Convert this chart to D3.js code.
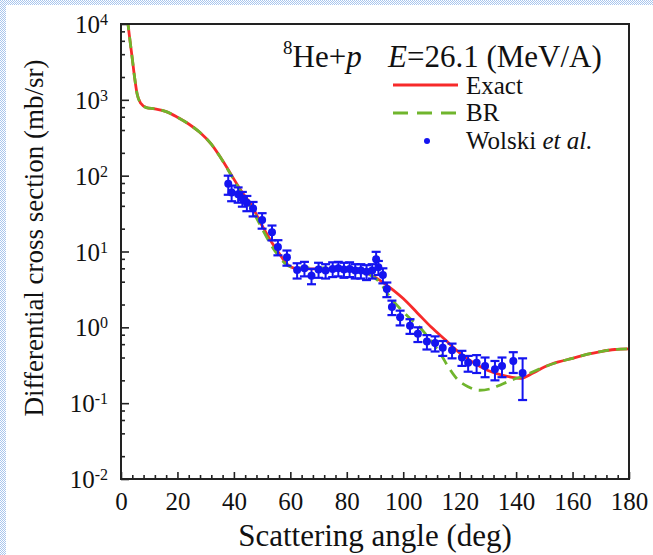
<!DOCTYPE html>
<html>
<head>
<meta charset="utf-8">
<script src="https://cdn.jsdelivr.net/npm/d3@7"></script>
<style>
  html, body { margin: 0; padding: 0; background: #fff; }
  svg { display: block; }
  svg text { font-family: "Liberation Serif", "Times New Roman", serif !important; fill: #111; }
</style>
</head>
<body>
<svg id="chart" width="653" height="555"></svg>
<script>
// Angular distribution of 8He+p elastic scattering at 26.1 MeV/A

// Exact calculation (red solid)
const exactAngle = [1.8, 2.5, 3.2, 4.0, 4.8, 5.7, 7.0, 9.0, 12, 16, 20, 24, 28, 32, 35, 38, 40, 43, 46, 50, 53, 56, 58, 60, 63, 70, 78, 84, 88, 92, 96, 100, 105, 110, 115, 120, 125, 130, 135, 140, 141.5, 146, 150, 155, 160, 165, 170, 175, 180];
const exactValue = [20000, 10000, 6000, 3500, 2000, 1200, 900, 790, 760, 700, 590, 480, 370, 260, 180, 120, 90, 60, 42, 22, 14, 9.5, 7.4, 6.3, 5.9, 5.9, 5.8, 5.5, 5.0, 4.1, 3.2, 2.4, 1.55, 1.0, 0.68, 0.46, 0.34, 0.27, 0.235, 0.215, 0.212, 0.25, 0.30, 0.35, 0.39, 0.44, 0.48, 0.51, 0.52];

// BR approximation (green dashed)
const brAngle = [1.8, 2.5, 3.2, 4.0, 4.8, 5.7, 7.0, 9.0, 12, 16, 20, 24, 28, 32, 35, 38, 40, 43, 46, 50, 53, 56, 58, 60, 63, 70, 78, 84, 88, 92, 95, 99, 103, 107, 110, 113, 116, 119, 123, 127, 131, 135, 139, 142, 146, 150, 155, 160, 165, 170, 175, 180];
const brValue = [20000, 10000, 6000, 3500, 2000, 1200, 900, 790, 760, 700, 590, 480, 370, 260, 180, 118, 88, 57, 38, 20, 12.5, 8.6, 7.0, 6.3, 6.1, 6.1, 6.0, 5.6, 5.0, 3.8, 2.6, 1.75, 1.25, 0.9, 0.65, 0.46, 0.3, 0.21, 0.165, 0.148, 0.155, 0.178, 0.205, 0.225, 0.26, 0.30, 0.35, 0.39, 0.44, 0.48, 0.51, 0.52];

// Wolski et al. measurement with uncertainties
const dataAngle = [38.0, 39.2, 41.5, 43.0, 44.6, 46.8, 50.0, 53.5, 55.6, 58.8, 62.4, 65.0, 67.5, 70.0, 72.5, 75.0, 77.0, 79.0, 81.0, 83.0, 85.0, 87.0, 89.0, 90.4, 91.2, 92.8, 94.2, 96.0, 98.9, 102.4, 105.2, 108.4, 111.3, 114.0, 117.3, 120.8, 123.0, 126.0, 129.0, 132.5, 135.0, 139.0, 142.3];
const dataValue = [78, 60, 57, 50, 44, 37, 26, 18, 11.5, 8.4, 5.7, 6.0, 4.8, 5.8, 5.6, 5.9, 6.0, 5.8, 5.9, 5.6, 5.6, 5.4, 5.6, 7.9, 6.2, 4.9, 3.2, 1.85, 1.36, 1.05, 0.82, 0.65, 0.62, 0.54, 0.50, 0.40, 0.34, 0.34, 0.31, 0.28, 0.31, 0.36, 0.25];
const dataError = [22, 14, 13, 11, 10, 8, 6, 4, 2.6, 1.9, 1.3, 1.3, 1.1, 1.3, 1.2, 1.3, 1.3, 1.3, 1.3, 1.2, 1.2, 1.2, 1.2, 2.0, 1.3, 1.1, 0.7, 0.4, 0.3, 0.23, 0.18, 0.14, 0.14, 0.12, 0.11, 0.09, 0.08, 0.09, 0.09, 0.08, 0.09, 0.11, 0.14];

const xMajor = [0, 20, 40, 60, 80, 100, 120, 140, 160, 180];
const yDecades = [-2, -1, 0, 1, 2, 3, 4];

const svg = d3.select("#chart");
const W = 653, H = 555;
const m = { left: 121, top: 24, right: 629, bottom: 479 };
const serif = '"Liberation Serif", "Times New Roman", serif';

// Dotted light-blue frame strips along the top and left edges
const defs = svg.append("defs");
const pat = defs.append("pattern").attr("id", "dots")
  .attr("width", 2).attr("height", 2).attr("patternUnits", "userSpaceOnUse");
pat.append("rect").attr("width", 2).attr("height", 2).attr("fill", "#ffffff");
pat.append("rect").attr("width", 1).attr("height", 1).attr("fill", "#a9c6ee");
pat.append("rect").attr("x", 1).attr("y", 1).attr("width", 1).attr("height", 1).attr("fill", "#a9c6ee");
svg.append("rect").attr("x", 0).attr("y", 0).attr("width", W).attr("height", 5).attr("fill", "url(#dots)");
svg.append("rect").attr("x", 0).attr("y", 0).attr("width", 6).attr("height", H).attr("fill", "url(#dots)");

defs.append("clipPath").attr("id", "plotClip").append("rect")
  .attr("x", m.left).attr("y", m.top)
  .attr("width", m.right - m.left).attr("height", m.bottom - m.top);

const x = d3.scaleLinear().domain([0, 180]).range([m.left, m.right]);
const y = d3.scaleLog().domain([1e-2, 1e4]).range([m.bottom, m.top]);

// X axis: majors every 20 deg, minors every 4 deg, ticks pointing inward
const xMinor = d3.range(0, 181, 4).filter(v => v % 20 !== 0);
const gxMinor = svg.append("g").attr("transform", `translate(0,${m.bottom})`)
  .call(d3.axisBottom(x).tickValues(xMinor).tickSize(-4).tickFormat(""));
const gx = svg.append("g").attr("transform", `translate(0,${m.bottom})`)
  .call(d3.axisBottom(x).tickValues(xMajor).tickSize(-7).tickPadding(13).tickFormat(d3.format("d")));
gx.attr("font-family", serif);
gx.selectAll("text").style("font-size", "25px").style("font-family", serif).attr("fill", "#111");
[gx, gxMinor].forEach(g => {
  g.select(".domain").remove();
  g.selectAll("line").attr("stroke", "#222").attr("stroke-width", 1.6);
});

// Y axis: decades with 2,4,6,8 minor marks, ticks pointing inward
const yMinor = [];
for (let k = -2; k < 4; k++) [2, 4, 6, 8].forEach(f => yMinor.push(f * Math.pow(10, k)));
const gyMinor = svg.append("g").attr("transform", `translate(${m.left},0)`)
  .call(d3.axisLeft(y).tickValues(yMinor).tickSize(-4).tickFormat(""));
const gy = svg.append("g").attr("transform", `translate(${m.left},0)`)
  .call(d3.axisLeft(y).tickValues(yDecades.map(k => Math.pow(10, k))).tickSize(-8).tickFormat(""));
gy.attr("font-family", serif);
[gy, gyMinor].forEach(g => {
  g.select(".domain").remove();
  g.selectAll("line").attr("stroke", "#222").attr("stroke-width", 1.6);
});
gy.selectAll(".tick").each(function(d) {
  const t = d3.select(this).select("text")
    .attr("x", -13).attr("dy", "0.34em").attr("text-anchor", "end")
    .style("font-size", "25px").style("font-family", serif).attr("fill", "#111");
  const e = Math.round(Math.log10(d));
  t.append("tspan").text("10");
  t.append("tspan").attr("dy", "-0.5em").style("font-size", "16px").text(String(e));
});

const plot = svg.append("g").attr("clip-path", "url(#plotClip)");

const line = d3.line()
  .x(d => x(d[0])).y(d => y(d[1]))
  .curve(d3.curveMonotoneX);

const exactPts = exactAngle.map((a, i) => [a, exactValue[i]]);
const brPts = brAngle.map((a, i) => [a, brValue[i]]);

const red = "#f72a2a", green = "#70b52d", blue = "#1414f0";

plot.append("path").datum(exactPts)
  .attr("d", line).attr("fill", "none")
  .attr("stroke", red).attr("stroke-width", 2.8);
plot.append("path").datum(brPts)
  .attr("d", line).attr("fill", "none")
  .attr("stroke", green).attr("stroke-width", 2.8)
  .attr("stroke-dasharray", "11,7");

// Data points with error bars
const pts = dataAngle.map((a, i) => ({ a, v: dataValue[i], e: dataError[i] }));
const lo = d => y(Math.max(d.v - d.e, 1e-3));
const hi = d => y(d.v + d.e);
const eb = plot.append("g").selectAll("g").data(pts).join("g");
eb.append("line")
  .attr("x1", d => x(d.a)).attr("x2", d => x(d.a))
  .attr("y1", lo).attr("y2", hi)
  .attr("stroke", blue).attr("stroke-width", 2);
eb.append("line")
  .attr("x1", d => x(d.a) - 4.5).attr("x2", d => x(d.a) + 4.5)
  .attr("y1", hi).attr("y2", hi)
  .attr("stroke", blue).attr("stroke-width", 2.2);
eb.append("line")
  .attr("x1", d => x(d.a) - 4.5).attr("x2", d => x(d.a) + 4.5)
  .attr("y1", lo).attr("y2", lo)
  .attr("stroke", blue).attr("stroke-width", 2.2);
eb.append("circle")
  .attr("cx", d => x(d.a)).attr("cy", d => y(d.v)).attr("r", 4)
  .attr("fill", blue);

// Frame
svg.append("rect")
  .attr("x", m.left).attr("y", m.top)
  .attr("width", m.right - m.left).attr("height", m.bottom - m.top)
  .attr("fill", "none").attr("stroke", "#222").attr("stroke-width", 2);

// Axis titles
svg.append("text")
  .attr("x", 375).attr("y", 546)
  .attr("text-anchor", "middle").style("font-size", "31px")
  .text("Scattering angle (deg)");
svg.append("text")
  .attr("transform", `translate(43,238) rotate(-90)`)
  .attr("text-anchor", "middle").style("font-size", "27px")
  .text("Differential cross section (mb/sr)");

// Header and legend
const head = svg.append("text").attr("x", 283).attr("y", 62).style("font-size", "31px");
head.append("tspan").attr("dy", "-0.42em").style("font-size", "19px").text("8");
head.append("tspan").attr("dy", "0.42em").text("He+");
head.append("tspan").style("font-style", "italic").text("p");
head.append("tspan").attr("x", 388).style("font-style", "italic").text("E");
head.append("tspan").text("=26.1 (MeV/A)");

const leg = svg.append("g");
leg.append("line").attr("x1", 393).attr("x2", 458).attr("y1", 85).attr("y2", 85)
  .attr("stroke", red).attr("stroke-width", 2.8);
leg.append("line").attr("x1", 393).attr("x2", 458).attr("y1", 113).attr("y2", 113)
  .attr("stroke", green).attr("stroke-width", 2.8).attr("stroke-dasharray", "15,9");
leg.append("circle").attr("cx", 427).attr("cy", 141).attr("r", 3).attr("fill", blue);
leg.append("text").attr("x", 466).attr("y", 94).style("font-size", "25px").text("Exact");
leg.append("text").attr("x", 466).attr("y", 121).style("font-size", "25px").text("BR");
const wt = leg.append("text").attr("x", 466).attr("y", 149).style("font-size", "25px");
wt.append("tspan").text("Wolski ");
wt.append("tspan").style("font-style", "italic").text("et al.");
</script>
</body>
</html>
